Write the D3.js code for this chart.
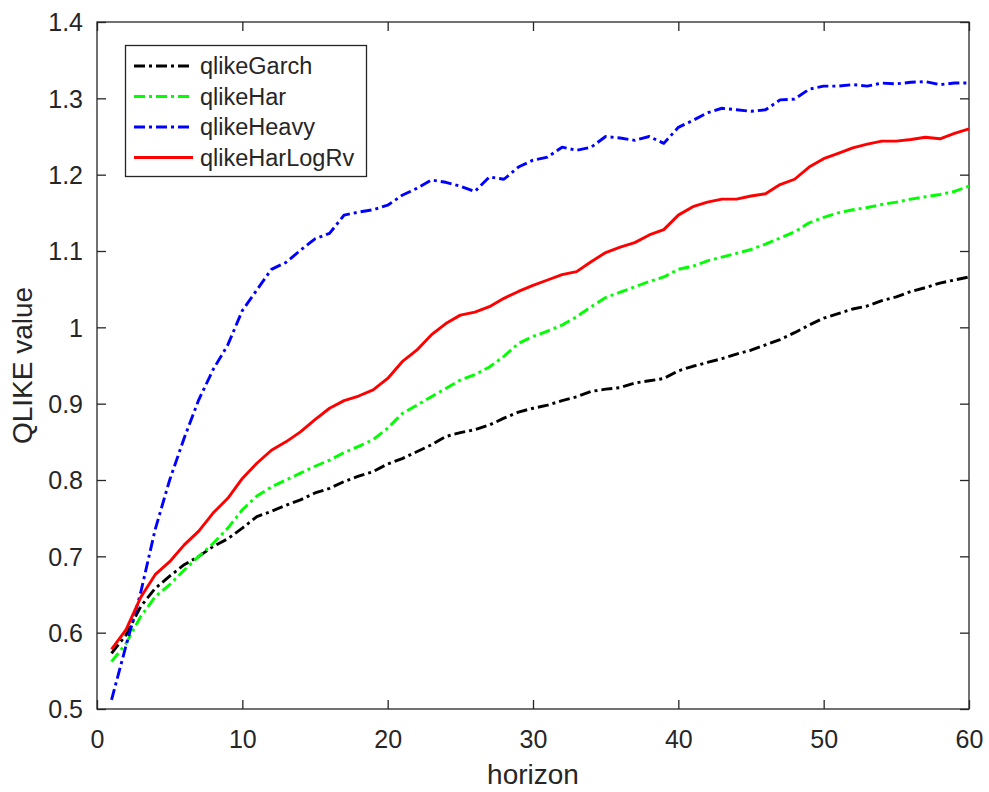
<!DOCTYPE html>
<html>
<head>
<meta charset="utf-8">
<script src="https://cdn.jsdelivr.net/npm/d3@7"></script>
<style>
  html, body { margin: 0; padding: 0; background: #fff; }
  svg { display: block; }
  text { font-family: "Liberation Sans", Arial, Helvetica, sans-serif; fill: #262626; }
</style>
</head>
<body>
<svg id="chart" width="989" height="792"></svg>
<script>
// Forecast horizons (days ahead)
const horizon = [1,2,3,4,5,6,7,8,9,10,11,12,13,14,15,16,17,18,19,20,
  21,22,23,24,25,26,27,28,29,30,31,32,33,34,35,36,37,38,39,40,
  41,42,43,44,45,46,47,48,49,50,51,52,53,54,55,56,57,58,59,60];

// QLIKE loss per horizon for each model
const qlikeGarch = [0.573,0.597,0.634,0.658,0.674,0.689,0.700,0.713,0.723,0.737,
  0.752,0.759,0.767,0.774,0.783,0.789,0.798,0.805,0.811,0.821,
  0.828,0.837,0.846,0.857,0.862,0.866,0.872,0.881,0.889,0.894,
  0.898,0.904,0.909,0.916,0.919,0.921,0.927,0.930,0.933,0.943,
  0.949,0.954,0.959,0.965,0.970,0.977,0.984,0.993,1.003,1.012,
  1.018,1.024,1.028,1.035,1.040,1.047,1.052,1.058,1.062,1.066];

const qlikeHar = [0.562,0.586,0.621,0.647,0.663,0.682,0.700,0.717,0.737,0.761,
  0.779,0.791,0.800,0.809,0.818,0.826,0.836,0.844,0.853,0.868,
  0.887,0.898,0.909,0.920,0.931,0.938,0.948,0.962,0.979,0.988,
  0.995,1.003,1.014,1.027,1.039,1.046,1.053,1.060,1.066,1.076,
  1.080,1.087,1.092,1.097,1.102,1.109,1.117,1.125,1.137,1.144,
  1.150,1.154,1.157,1.161,1.164,1.168,1.171,1.174,1.178,1.185];

const qlikeHeavy = [0.512,0.583,0.652,0.735,0.800,0.855,0.905,0.945,0.977,1.022,
  1.049,1.076,1.085,1.101,1.116,1.123,1.147,1.151,1.154,1.160,
  1.173,1.182,1.193,1.190,1.185,1.178,1.197,1.194,1.210,1.219,
  1.223,1.236,1.232,1.236,1.250,1.248,1.245,1.250,1.241,1.262,
  1.271,1.281,1.287,1.285,1.283,1.285,1.298,1.299,1.312,1.316,
  1.316,1.318,1.316,1.320,1.319,1.321,1.322,1.318,1.320,1.320];

const qlikeHarLogRv = [0.578,0.604,0.646,0.676,0.693,0.715,0.733,0.757,0.776,0.802,
  0.822,0.839,0.850,0.863,0.879,0.894,0.904,0.910,0.918,0.933,
  0.955,0.970,0.990,1.005,1.016,1.020,1.027,1.038,1.047,1.055,
  1.062,1.069,1.073,1.086,1.098,1.105,1.111,1.121,1.128,1.147,
  1.158,1.164,1.168,1.168,1.172,1.175,1.187,1.194,1.210,1.221,
  1.228,1.235,1.240,1.244,1.244,1.246,1.249,1.247,1.254,1.260];

const seriesNames = ["qlikeGarch", "qlikeHar", "qlikeHeavy", "qlikeHarLogRv"];
const seriesValues = [qlikeGarch, qlikeHar, qlikeHeavy, qlikeHarLogRv];
const seriesColors = ["#000000", "#00ff00", "#0000ff", "#ff0000"];
const seriesDash = ["11,4,3,4", "11,4,3,4", "11,4,3,4", null];

const xTicks = [0, 10, 20, 30, 40, 50, 60];
const yTicks = [0.5, 0.6, 0.7, 0.8, 0.9, 1, 1.1, 1.2, 1.3, 1.4];

const svg = d3.select("#chart");
const plot = { left: 97, right: 969, top: 22, bottom: 709 };
const axisColor = "#262626";

const x = d3.scaleLinear().domain([0, 60]).range([plot.left, plot.right]);
const y = d3.scaleLinear().domain([0.5, 1.4]).range([plot.bottom, plot.top]);

const tickLen = 9;
const fmt = d => String(+d.toFixed(1));

// bottom axis with inward ticks
const xAxis = svg.append("g").attr("transform", `translate(0,${plot.bottom})`)
  .call(d3.axisBottom(x).tickValues(xTicks).tickSizeInner(-tickLen).tickSizeOuter(0).tickPadding(20).tickFormat(fmt));
// top mirrored ticks
const xTop = svg.append("g").attr("transform", `translate(0,${plot.top})`)
  .call(d3.axisTop(x).tickValues(xTicks).tickSizeInner(-tickLen).tickSizeOuter(0).tickFormat(""));
// left axis
const yAxis = svg.append("g").attr("transform", `translate(${plot.left},0)`)
  .call(d3.axisLeft(y).tickValues(yTicks).tickSizeInner(-tickLen).tickSizeOuter(0).tickPadding(14).tickFormat(fmt));
// right mirrored ticks
const yRight = svg.append("g").attr("transform", `translate(${plot.right},0)`)
  .call(d3.axisRight(y).tickValues(yTicks).tickSizeInner(-tickLen).tickSizeOuter(0).tickFormat(""));

[xAxis, xTop, yAxis, yRight].forEach(g => {
  g.select(".domain").remove();
  g.selectAll(".tick line").attr("stroke", axisColor).attr("stroke-width", 1.3);
  g.selectAll(".tick text").attr("fill", axisColor)
    .style("font-size", "25px").style("font-family", "'Liberation Sans', Arial, sans-serif");
});
xAxis.selectAll(".tick text").attr("dy", null).attr("y", 39);
yAxis.selectAll(".tick text").attr("dy", "0.35em");

// axes box
svg.append("rect")
  .attr("x", plot.left).attr("y", plot.top)
  .attr("width", plot.right - plot.left).attr("height", plot.bottom - plot.top)
  .attr("fill", "none").attr("stroke", axisColor).attr("stroke-width", 1.3);

// series lines
const line = d3.line().x((d, i) => x(horizon[i])).y(d => y(d));
seriesValues.forEach((vals, k) => {
  svg.append("path")
    .datum(vals)
    .attr("d", line)
    .attr("fill", "none")
    .attr("stroke", seriesColors[k])
    .attr("stroke-width", 2.9)
    .attr("stroke-linejoin", "round")
    .attr("stroke-dasharray", seriesDash[k]);
});

// axis labels
svg.append("text")
  .attr("x", (plot.left + plot.right) / 2).attr("y", 784)
  .attr("text-anchor", "middle")
  .style("font-size", "28px")
  .text("horizon");

svg.append("text")
  .attr("transform", `translate(32,${(plot.top + plot.bottom) / 2}) rotate(-90)`)
  .attr("text-anchor", "middle")
  .style("font-size", "28px")
  .text("QLIKE value");

// legend
const legend = svg.append("g");
legend.append("rect")
  .attr("x", 125.5).attr("y", 45.5).attr("width", 241).attr("height", 131)
  .attr("fill", "#fff").attr("stroke", axisColor).attr("stroke-width", 1.3);
const rowY = [66, 96.5, 127, 157.5];
seriesNames.forEach((name, k) => {
  legend.append("line")
    .attr("x1", 134).attr("x2", 193)
    .attr("y1", rowY[k]).attr("y2", rowY[k])
    .attr("stroke", seriesColors[k]).attr("stroke-width", 2.9)
    .attr("stroke-dasharray", seriesDash[k]);
  legend.append("text")
    .attr("x", 200).attr("y", rowY[k]).attr("dy", "0.35em")
    .style("font-size", "23.5px")
    .text(name);
});
</script>
</body>
</html>
